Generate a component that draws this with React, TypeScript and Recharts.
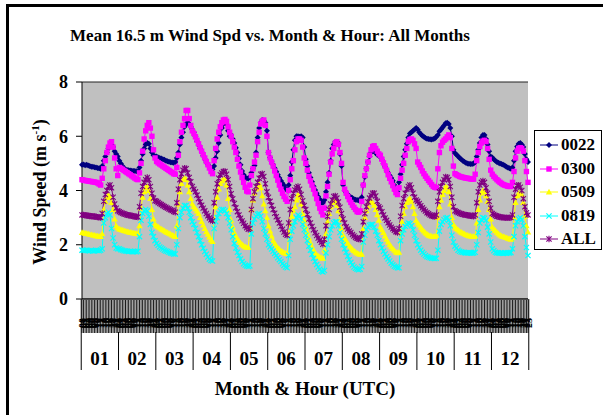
import React from 'react';
import { LineChart, Line, XAxis, YAxis, CartesianGrid, Legend } from 'recharts';

const SERIF = "'Liberation Serif', 'Times New Roman', Times, serif";

const months = ['01', '02', '03', '04', '05', '06', '07', '08', '09', '10', '11', '12'];
const hours = ['00', '01', '02', '03', '04', '05', '06', '07', '08', '09', '10', '11', '12', '13', '14', '15', '16', '17', '18', '19', '20', '21', '22', '23'];

// Hour-by-month mean wind speed (m/s), one row per month, 24 hourly values
const s0022: number[][] = [
  [4.95, 4.96, 4.93, 4.95, 4.92, 4.9, 4.88, 4.88, 4.86, 4.85, 4.83, 4.82, 4.8, 4.9, 5.1, 5.25, 5.4, 5.55, 5.65, 5.7, 5.6, 5.45, 5.35, 5.25],
  [5.1, 5.0, 4.9, 4.82, 4.78, 4.76, 4.75, 4.74, 4.73, 4.72, 4.72, 4.71, 4.7, 4.85, 5.1, 5.35, 5.55, 5.7, 5.75, 5.72, 5.55, 5.4, 5.3, 5.25],
  [5.25, 5.22, 5.2, 5.18, 5.15, 5.13, 5.1, 5.08, 5.06, 5.04, 5.03, 5.02, 5.05, 5.2, 5.4, 5.7, 5.95, 6.15, 6.35, 6.45, 6.5, 6.45, 6.35, 6.25],
  [6.15, 6.0, 5.82, 5.68, 5.55, 5.42, 5.28, 5.16, 5.05, 4.96, 4.88, 4.82, 4.78, 4.9, 5.2, 5.45, 5.75, 6.05, 6.3, 6.45, 6.55, 6.45, 6.2, 6.0],
  [6.05, 5.9, 5.75, 5.58, 5.4, 5.18, 4.95, 4.72, 4.58, 4.48, 4.45, 4.44, 4.5, 4.65, 4.8, 4.92, 5.4, 5.95, 6.3, 6.5, 6.6, 6.58, 6.5, 6.2],
  [5.4, 5.22, 5.08, 4.95, 4.82, 4.7, 4.58, 4.46, 4.36, 4.27, 4.18, 4.08, 4.0, 4.2, 4.55, 5.05, 5.5, 5.85, 6.0, 6.0, 5.98, 6.0, 5.95, 5.6],
  [5.15, 4.9, 4.65, 4.48, 4.32, 4.16, 4.02, 3.9, 3.78, 3.68, 3.56, 3.55, 3.65, 3.95, 4.3, 4.65, 5.1, 5.55, 5.7, 5.8, 5.8, 5.75, 5.35, 4.9],
  [4.2, 4.0, 3.92, 3.85, 3.8, 3.75, 3.72, 3.68, 3.66, 3.65, 3.64, 3.65, 3.75, 4.2, 4.5, 4.8, 5.05, 5.25, 5.4, 5.48, 5.45, 5.38, 5.32, 5.28],
  [5.25, 5.12, 5.0, 4.88, 4.76, 4.65, 4.55, 4.46, 4.36, 4.2, 3.98, 3.95, 4.3, 4.6, 4.95, 5.25, 5.5, 5.72, 5.95, 6.1, 6.15, 6.2, 6.25, 6.3],
  [6.25, 6.15, 6.08, 6.02, 5.98, 5.94, 5.91, 5.9, 5.89, 5.88, 5.9, 5.92, 5.98, 6.05, 6.18, 6.25, 6.32, 6.4, 6.48, 6.5, 6.45, 6.3, 6.0, 5.5],
  [5.38, 5.32, 5.26, 5.2, 5.15, 5.1, 5.06, 5.02, 5.0, 4.99, 4.98, 4.98, 5.0, 5.05, 5.25, 5.5, 5.75, 5.95, 6.05, 6.05, 5.9, 5.7, 5.45, 5.25],
  [5.22, 5.15, 5.1, 5.05, 5.02, 5.0, 4.98, 4.95, 4.92, 4.88, 4.85, 4.82, 4.8, 4.85, 5.1, 5.45, 5.62, 5.72, 5.75, 5.7, 5.6, 5.35, 5.15, 5.05],
];

const s0300: number[][] = [
  [4.4, 4.38, 4.37, 4.36, 4.35, 4.34, 4.33, 4.32, 4.31, 4.3, 4.28, 4.24, 4.2, 4.45, 4.8, 5.1, 5.4, 5.6, 5.75, 5.8, 5.6, 5.2, 4.8, 4.55],
  [4.85, 4.82, 4.78, 4.74, 4.7, 4.66, 4.62, 4.58, 4.54, 4.5, 4.46, 4.42, 4.4, 4.65, 5.0, 5.45, 5.9, 6.2, 6.4, 6.5, 6.3, 6.0, 5.5, 5.2],
  [5.07, 5.02, 4.98, 4.94, 4.9, 4.86, 4.82, 4.78, 4.74, 4.7, 4.66, 4.62, 4.6, 4.85, 5.3, 5.8, 6.15, 6.4, 6.65, 6.95, 6.95, 6.65, 6.4, 6.2],
  [6.1, 5.98, 5.85, 5.72, 5.58, 5.45, 5.32, 5.2, 5.07, 4.95, 4.83, 4.7, 4.62, 5.1, 5.55, 5.9, 6.15, 6.35, 6.5, 6.6, 6.62, 6.55, 6.35, 6.15],
  [6.0, 5.8, 5.6, 5.4, 5.15, 4.9, 4.68, 4.48, 4.3, 4.12, 3.98, 3.95, 4.2, 4.55, 4.8, 5.05, 5.3, 5.8, 6.15, 6.45, 6.55, 6.6, 6.4, 6.0],
  [5.4, 5.2, 5.05, 4.9, 4.72, 4.55, 4.38, 4.2, 4.05, 3.9, 3.78, 3.68, 3.6, 4.0, 4.4, 4.8, 5.1, 5.5, 5.8, 5.9, 5.9, 5.85, 5.6, 5.2],
  [5.0, 4.75, 4.52, 4.35, 4.2, 4.05, 3.88, 3.7, 3.52, 3.35, 3.22, 3.1, 3.35, 3.8, 4.15, 4.6, 5.05, 5.35, 5.55, 5.75, 5.8, 5.7, 5.4, 5.0],
  [4.3, 4.05, 3.9, 3.78, 3.66, 3.56, 3.46, 3.38, 3.3, 3.22, 3.2, 3.25, 3.6, 4.2, 4.55, 4.8, 5.05, 5.3, 5.5, 5.62, 5.65, 5.55, 5.45, 5.35],
  [5.3, 5.15, 5.02, 4.9, 4.75, 4.58, 4.45, 4.32, 4.18, 4.05, 3.92, 3.85, 4.1, 4.45, 4.75, 5.0, 5.3, 5.55, 5.8, 5.88, 5.9, 5.85, 5.72, 5.55],
  [5.05, 4.95, 4.85, 4.72, 4.62, 4.53, 4.45, 4.37, 4.3, 4.22, 4.15, 4.12, 4.1, 4.8, 5.4, 5.65, 5.78, 5.85, 5.9, 5.98, 6.05, 5.95, 5.55, 4.9],
  [4.62, 4.58, 4.55, 4.52, 4.5, 4.49, 4.47, 4.46, 4.45, 4.44, 4.43, 4.42, 4.42, 4.6, 5.1, 5.4, 5.62, 5.75, 5.82, 5.85, 5.8, 5.55, 5.15, 4.75],
  [4.6, 4.52, 4.46, 4.4, 4.35, 4.3, 4.26, 4.22, 4.2, 4.18, 4.16, 4.15, 4.15, 4.3, 4.7, 5.2, 5.45, 5.55, 5.58, 5.55, 5.45, 5.1, 4.7, 4.3],
];

const s0509: number[][] = [
  [2.45, 2.44, 2.42, 2.41, 2.4, 2.38, 2.37, 2.36, 2.35, 2.33, 2.32, 2.31, 2.3, 2.4, 3.3, 3.6, 3.75, 3.84, 3.75, 3.55, 3.3, 2.95, 2.7, 2.62],
  [2.58, 2.56, 2.54, 2.52, 2.5, 2.49, 2.47, 2.46, 2.45, 2.43, 2.42, 2.41, 2.4, 2.7, 3.35, 3.75, 3.95, 4.1, 4.15, 4.0, 3.7, 3.3, 2.95, 2.75],
  [2.7, 2.66, 2.62, 2.58, 2.55, 2.51, 2.48, 2.45, 2.42, 2.39, 2.36, 2.33, 2.3, 2.7, 3.5, 3.95, 4.25, 4.4, 4.45, 4.4, 4.2, 3.95, 3.7, 3.5],
  [3.4, 3.32, 3.24, 3.15, 3.0, 2.85, 2.72, 2.6, 2.48, 2.38, 2.28, 2.18, 2.12, 2.9, 3.4, 3.75, 4.05, 4.25, 4.35, 4.4, 4.4, 4.2, 3.7, 3.3],
  [2.9, 2.65, 2.45, 2.32, 2.22, 2.14, 2.07, 2.01, 1.96, 1.92, 1.9, 1.9, 2.6, 3.3, 3.65, 3.9, 4.05, 4.15, 4.25, 4.1, 3.8, 3.5, 3.25, 3.0],
  [2.7, 2.5, 2.32, 2.15, 2.05, 1.96, 1.89, 1.83, 1.78, 1.74, 1.71, 1.68, 1.67, 2.45, 2.8, 3.05, 3.25, 3.4, 3.65, 3.85, 3.75, 3.5, 3.15, 2.9],
  [2.65, 2.45, 2.25, 2.08, 1.92, 1.8, 1.7, 1.63, 1.58, 1.55, 1.52, 1.5, 1.8, 2.4, 2.85, 3.15, 3.4, 3.55, 3.65, 3.6, 3.45, 3.25, 2.95, 2.6],
  [2.35, 2.25, 2.15, 2.05, 1.97, 1.9, 1.83, 1.78, 1.73, 1.69, 1.66, 1.65, 1.65, 2.6, 3.0, 3.25, 3.4, 3.55, 3.6, 3.55, 3.45, 3.3, 3.1, 2.9],
  [2.65, 2.55, 2.45, 2.32, 2.2, 2.1, 2.0, 1.92, 1.85, 1.79, 1.73, 1.7, 1.72, 2.45, 2.85, 3.15, 3.4, 3.55, 3.65, 3.7, 3.6, 3.4, 3.15, 2.9],
  [2.8, 2.72, 2.64, 2.56, 2.5, 2.44, 2.39, 2.35, 2.33, 2.31, 2.3, 2.3, 2.35, 3.0, 3.4, 3.65, 3.85, 4.0, 4.15, 4.1, 3.95, 3.5, 3.0, 2.75],
  [2.65, 2.6, 2.55, 2.5, 2.46, 2.43, 2.4, 2.37, 2.35, 2.33, 2.32, 2.3, 2.3, 2.32, 2.8, 3.3, 3.65, 3.9, 4.0, 3.95, 3.8, 3.6, 3.3, 2.95],
  [2.65, 2.58, 2.52, 2.46, 2.4, 2.36, 2.32, 2.3, 2.28, 2.26, 2.24, 2.22, 2.2, 2.25, 3.0, 3.55, 3.8, 3.9, 3.9, 3.85, 3.55, 3.05, 2.7, 2.47],
];

const s0819: number[][] = [
  [1.8, 1.8, 1.79, 1.8, 1.78, 1.78, 1.79, 1.77, 1.78, 1.8, 1.79, 1.78, 1.8, 1.85, 2.8, 3.0, 3.15, 3.2, 3.1, 2.6, 2.25, 2.0, 1.88, 1.85],
  [1.85, 1.82, 1.8, 1.78, 1.77, 1.76, 1.75, 1.76, 1.75, 1.74, 1.75, 1.74, 1.76, 2.3, 2.9, 3.15, 3.25, 3.3, 3.25, 3.05, 2.75, 2.45, 2.3, 2.15],
  [2.05, 1.98, 1.92, 1.88, 1.84, 1.8, 1.77, 1.75, 1.72, 1.7, 1.68, 1.66, 1.66, 2.0, 2.6, 3.0, 3.2, 3.35, 3.45, 3.45, 3.35, 3.2, 3.0, 2.85],
  [2.75, 2.6, 2.45, 2.3, 2.15, 2.0, 1.87, 1.75, 1.65, 1.55, 1.47, 1.42, 1.4, 2.6, 2.85, 3.0, 3.15, 3.25, 3.3, 3.3, 3.25, 3.15, 3.0, 2.8],
  [2.55, 2.3, 2.05, 1.88, 1.72, 1.6, 1.48, 1.38, 1.3, 1.25, 1.22, 1.2, 1.22, 2.4, 2.8, 2.95, 3.05, 3.12, 3.15, 3.05, 2.85, 2.6, 2.4, 2.2],
  [2.0, 1.92, 1.84, 1.76, 1.68, 1.6, 1.52, 1.45, 1.38, 1.3, 1.24, 1.18, 1.15, 1.6, 2.2, 2.5, 2.7, 2.85, 3.0, 3.1, 3.05, 2.95, 2.75, 2.55],
  [2.35, 2.15, 1.95, 1.8, 1.65, 1.5, 1.38, 1.27, 1.18, 1.1, 1.02, 1.0, 1.05, 1.7, 2.0, 2.3, 2.55, 2.7, 2.8, 2.85, 2.85, 2.7, 2.45, 2.2],
  [2.0, 1.85, 1.72, 1.58, 1.45, 1.35, 1.25, 1.18, 1.13, 1.1, 1.08, 1.1, 1.2, 2.1, 2.35, 2.55, 2.65, 2.72, 2.75, 2.75, 2.65, 2.5, 2.35, 2.15],
  [2.0, 1.88, 1.76, 1.66, 1.56, 1.48, 1.4, 1.32, 1.26, 1.21, 1.18, 1.15, 1.15, 2.15, 2.4, 2.55, 2.68, 2.75, 2.8, 2.78, 2.7, 2.55, 2.35, 2.15],
  [2.0, 1.9, 1.8, 1.72, 1.66, 1.6, 1.56, 1.54, 1.52, 1.5, 1.5, 1.49, 1.5, 1.8, 2.5, 2.75, 2.85, 2.92, 2.98, 3.0, 2.9, 2.7, 2.35, 2.1],
  [1.95, 1.88, 1.8, 1.76, 1.73, 1.72, 1.71, 1.7, 1.7, 1.71, 1.7, 1.69, 1.7, 1.72, 2.0, 2.45, 2.8, 2.92, 3.0, 2.98, 2.9, 2.65, 2.4, 2.1],
  [1.85, 1.78, 1.72, 1.7, 1.7, 1.69, 1.7, 1.68, 1.7, 1.69, 1.7, 1.7, 1.71, 1.85, 2.3, 2.7, 2.85, 2.95, 3.0, 2.92, 2.7, 2.3, 1.9, 1.6],
];

const sALL: number[][] = [
  [3.1, 3.1, 3.09, 3.08, 3.07, 3.06, 3.05, 3.05, 3.04, 3.03, 3.02, 3.01, 3.0, 3.15, 3.6, 3.85, 4.0, 4.15, 4.2, 4.1, 3.75, 3.5, 3.35, 3.25],
  [3.22, 3.19, 3.16, 3.14, 3.12, 3.1, 3.09, 3.08, 3.07, 3.05, 3.04, 3.03, 3.02, 3.4, 3.9, 4.15, 4.3, 4.4, 4.48, 4.4, 4.15, 3.9, 3.72, 3.62],
  [3.6, 3.56, 3.52, 3.48, 3.45, 3.41, 3.38, 3.35, 3.32, 3.29, 3.26, 3.23, 3.2, 3.55, 4.05, 4.4, 4.62, 4.75, 4.82, 4.8, 4.65, 4.48, 4.32, 4.15],
  [4.05, 3.95, 3.83, 3.7, 3.58, 3.46, 3.35, 3.25, 3.15, 3.07, 2.99, 2.92, 2.88, 3.55, 3.95, 4.25, 4.45, 4.58, 4.65, 4.7, 4.7, 4.6, 4.4, 4.15],
  [3.88, 3.7, 3.52, 3.36, 3.22, 3.1, 2.98, 2.88, 2.79, 2.7, 2.63, 2.57, 2.6, 3.3, 3.7, 3.95, 4.15, 4.3, 4.45, 4.6, 4.62, 4.52, 4.25, 3.95],
  [3.75, 3.6, 3.45, 3.3, 3.16, 3.03, 2.92, 2.8, 2.68, 2.57, 2.47, 2.39, 2.35, 2.8, 3.3, 3.7, 3.9, 4.02, 4.1, 4.15, 4.05, 3.85, 3.62, 3.45],
  [3.3, 3.12, 2.95, 2.8, 2.67, 2.55, 2.44, 2.34, 2.25, 2.17, 2.09, 2.02, 2.2, 2.7, 3.05, 3.3, 3.5, 3.65, 3.78, 3.8, 3.72, 3.58, 3.38, 3.15],
  [2.95, 2.8, 2.66, 2.58, 2.51, 2.45, 2.38, 2.32, 2.27, 2.24, 2.21, 2.2, 2.4, 2.85, 3.15, 3.4, 3.58, 3.72, 3.82, 3.9, 3.9, 3.8, 3.6, 3.4],
  [3.35, 3.22, 3.1, 2.99, 2.9, 2.81, 2.73, 2.65, 2.59, 2.53, 2.48, 2.45, 2.6, 3.05, 3.45, 3.7, 3.9, 4.05, 4.15, 4.2, 4.1, 3.9, 3.75, 3.65],
  [3.6, 3.52, 3.44, 3.36, 3.3, 3.24, 3.18, 3.14, 3.1, 3.07, 3.05, 3.04, 3.1, 3.6, 3.95, 4.15, 4.3, 4.4, 4.5, 4.48, 4.4, 4.15, 3.75, 3.4],
  [3.25, 3.22, 3.19, 3.16, 3.14, 3.12, 3.11, 3.1, 3.09, 3.08, 3.07, 3.06, 3.05, 3.1, 3.55, 3.95, 4.2, 4.3, 4.35, 4.3, 4.1, 3.9, 3.6, 3.35],
  [3.15, 3.12, 3.08, 3.05, 3.04, 3.02, 3.01, 3.0, 3.0, 3.0, 2.99, 3.0, 3.0, 3.1, 3.75, 4.05, 4.18, 4.2, 4.12, 4.0, 3.7, 3.4, 3.18, 3.1],
];

const yTicks = [0, 2, 4, 6, 8];

const data = months.flatMap((m, mi) =>
  hours.map((h, hi) => ({
    idx: mi * 24 + hi,
    month: m,
    hour: h,
    s0022: s0022[mi][hi],
    s0300: s0300[mi][hi],
    s0509: s0509[mi][hi],
    s0819: s0819[mi][hi],
    sALL: sALL[mi][hi],
  }))
);

type Marker = (cx: number, cy: number, key?: any) => React.ReactElement;

const diamond: Marker = (cx, cy, key) => (
  <path key={key} d={`M${cx},${cy - 3}L${cx + 3},${cy}L${cx},${cy + 3}L${cx - 3},${cy}Z`} fill="#000080" />
);
const square: Marker = (cx, cy, key) => (
  <rect key={key} x={cx - 2.7} y={cy - 2.7} width={5.4} height={5.4} fill="#FF00FF" />
);
const triangle: Marker = (cx, cy, key) => (
  <path key={key} d={`M${cx},${cy - 3.3}L${cx + 3.2},${cy + 2.4}L${cx - 3.2},${cy + 2.4}Z`} fill="#FFFF00" />
);
const cross: Marker = (cx, cy, key) => (
  <path key={key} d={`M${cx - 2.6},${cy - 2.6}L${cx + 2.6},${cy + 2.6}M${cx - 2.6},${cy + 2.6}L${cx + 2.6},${cy - 2.6}`} stroke="#00FFFF" strokeWidth={1.2} fill="none" />
);
const star: Marker = (cx, cy, key) => (
  <path key={key} d={`M${cx - 2.6},${cy - 2.6}L${cx + 2.6},${cy + 2.6}M${cx - 2.6},${cy + 2.6}L${cx + 2.6},${cy - 2.6}M${cx},${cy - 3.2}L${cx},${cy + 3.2}`} stroke="#800080" strokeWidth={1.1} fill="none" />
);

const SERIES = [
  { key: 's0022', name: '0022', color: '#000080', marker: diamond },
  { key: 's0300', name: '0300', color: '#FF00FF', marker: square },
  { key: 's0509', name: '0509', color: '#FFFF00', marker: triangle },
  { key: 's0819', name: '0819', color: '#00FFFF', marker: cross },
  { key: 'sALL', name: 'ALL', color: '#800080', marker: star },
];

const BAND = 446 / 288;

const HourTick = (props: any) => {
  const { x, payload } = props;
  const label = hours[payload.value % 24];
  return (
    <g>
      <line x1={x} y1={300} x2={x} y2={333} stroke="#000" strokeWidth={0.9} />
      <text
        transform={`translate(${x + 3.5},${328}) rotate(-90)`}
        fontSize={10}
        fontWeight="bold"
        fontFamily={SERIF}
        fill="#000"
      >
        {label}
      </text>
    </g>
  );
};

const MonthTick = (props: any) => {
  const { x, payload } = props;
  const i = payload.value as number;
  const parts: React.ReactElement[] = [];
  if (i % 24 === 0) {
    const left = x - BAND / 2;
    parts.push(<line key="l" x1={left} y1={i === 0 ? 299 : 332} x2={left} y2={370} stroke="#000" strokeWidth={1} />);
    parts.push(
      <text key="t" x={left + 12 * BAND} y={365} textAnchor="middle" fontSize={19} fontWeight="bold" fontFamily={SERIF} fill="#000">
        {months[Math.floor(i / 24)]}
      </text>
    );
  }
  if (i === 287) {
    const right = x + BAND / 2;
    parts.push(<line key="r" x1={right} y1={299} x2={right} y2={370} stroke="#000" strokeWidth={1} />);
  }
  return <g>{parts}</g>;
};

const YTitle = () => (
  <text
    x={46}
    y={192}
    transform="rotate(-90 46 192)"
    textAnchor="middle"
    fontSize={18}
    fontWeight="bold"
    fontFamily={SERIF}
    fill="#000"
  >
    Wind Speed (m s
    <tspan dy={-7} fontSize={11}>-1</tspan>
    <tspan dy={7}>)</tspan>
  </text>
);

const LegendBox = () => (
  <div style={{ width: 66, height: 118, border: '1px solid #000', background: '#fff', position: 'relative' }}>
    {SERIES.map((s, i) => (
      <div key={s.key} style={{ position: 'absolute', left: 0, top: 4 + i * 23.5, height: 20, display: 'flex', alignItems: 'center' }}>
        <svg width={26} height={20} style={{ display: 'block' }}>
          <line x1={5} y1={10} x2={23} y2={10} stroke={s.color} strokeWidth={1} />
          {s.marker(14, 10)}
        </svg>
        <span style={{ fontFamily: SERIF, fontWeight: 'bold', fontSize: 17, lineHeight: '20px', color: '#000' }}>{s.name}</span>
      </div>
    ))}
  </div>
);

export default function App() {
  return (
    <div style={{ position: 'relative', width: 603, height: 415, overflow: 'hidden', background: '#fff' }}>
      <style>{`body{margin:0;}`}</style>
      <div
        style={{
          position: 'absolute',
          left: 6,
          top: 4,
          width: 800,
          height: 600,
          borderLeft: '3px solid #000',
          borderTop: '3px solid #000',
        }}
      />
      <div
        style={{
          position: 'absolute',
          left: 0,
          top: 27,
          width: 540,
          textAlign: 'center',
          fontFamily: SERIF,
          fontWeight: 'bold',
          fontSize: 17,
          lineHeight: '17px',
          color: '#000',
        }}
      >
        Mean 16.5 m Wind Spd vs. Month &amp; Hour: All Months
      </div>
      <div
        style={{
          position: 'absolute',
          left: 105,
          top: 379,
          width: 400,
          textAlign: 'center',
          fontFamily: SERIF,
          fontWeight: 'bold',
          fontSize: 19,
          lineHeight: '19px',
          color: '#000',
        }}
      >
        Month &amp; Hour (UTC)
      </div>
      <div style={{ position: 'absolute', left: 0, top: 0 }}>
        <LineChart width={603} height={415} data={data} margin={{ top: 82, right: 75, bottom: 45, left: 0 }}>
          <CartesianGrid vertical={false} fill="#C0C0C0" stroke="#222" strokeWidth={1} />
          <XAxis
            xAxisId="hour"
            dataKey="idx"
            type="category"
            interval={0}
            height={33}
            tickLine={false}
            axisLine={{ stroke: '#000' }}
            tick={<HourTick />}
          />
          <XAxis
            xAxisId="month"
            dataKey="idx"
            type="category"
            interval={0}
            height={38}
            tickLine={false}
            axisLine={false}
            tick={<MonthTick />}
          />
          <YAxis
            yAxisId="l"
            domain={[0, 8]}
            ticks={yTicks}
            interval={0}
            width={82}
            tickSize={6}
            tickMargin={8}
            axisLine={{ stroke: '#000' }}
            tickLine={{ stroke: '#000' }}
            tick={{ fill: '#000', fontSize: 18, fontWeight: 'bold', fontFamily: SERIF }}
            label={<YTitle />}
          />
          <YAxis yAxisId="r" orientation="right" domain={[0, 8]} width={0} tick={false} tickLine={false} axisLine={{ stroke: '#808080' }} />
          <Legend
            layout="vertical"
            align="center"
            verticalAlign="middle"
            content={<LegendBox />}
            wrapperStyle={{ position: 'absolute', left: 534, top: 130, width: 68, height: 120 }}
          />
          <Line
            xAxisId="month"
            yAxisId="l"
            dataKey="sALL"
            stroke="none"
            dot={false}
            activeDot={false}
            legendType="none"
            isAnimationActive={false}
          />
          {SERIES.map((s) => (
            <Line
              key={s.key}
              xAxisId="hour"
              yAxisId="l"
              type="linear"
              dataKey={s.key}
              name={s.name}
              stroke={s.color}
              strokeWidth={1}
              dot={(p: any) => (p.cx == null ? <g key={p.index} /> : s.marker(p.cx, p.cy, p.index))}
              activeDot={false}
              isAnimationActive={false}
            />
          ))}
        </LineChart>
      </div>
    </div>
  );
}
